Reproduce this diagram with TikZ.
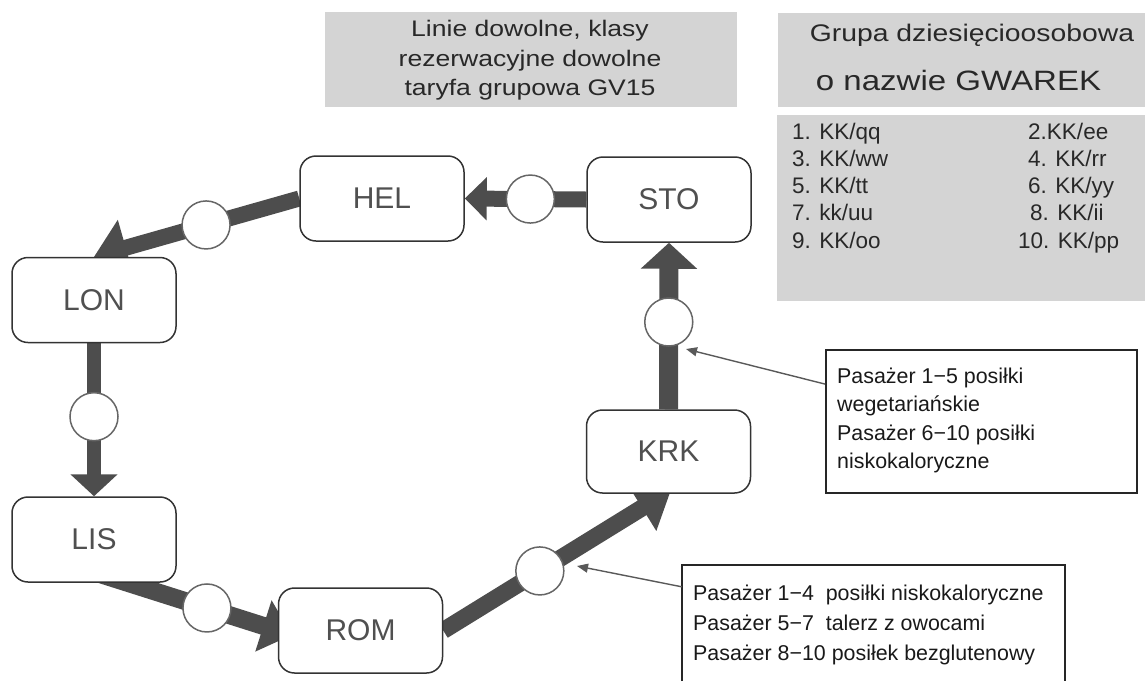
\documentclass[tikz,border=0pt]{standalone}
\usepackage{fontspec}
\setmainfont{Liberation Sans}
\newfontfamily\widefont[FakeStretch=1.18]{Liberation Sans}
\usetikzlibrary{arrows.meta}
\pgfdeclarelayer{bg}
\pgfsetlayers{bg,main}
\definecolor{boxgray}{RGB}{212,212,212}
\definecolor{conncol}{RGB}{77,77,77}
\definecolor{labcol}{RGB}{80,80,80}
\definecolor{txtcol}{RGB}{40,40,40}
\tikzset{
  city/.style={draw=black!80, line width=1.5pt, fill=white, rounded corners=16pt,
    minimum width=164pt, minimum height=85pt, inner sep=0pt,
    font=\fontsize{30}{30}\selectfont, text=labcol},
  stop/.style={circle, draw=black!60, line width=1.5pt, fill=white,
    minimum size=48pt, inner sep=0pt},
  conn/.style={draw=conncol, line width=#1},
  graybox/.style={fill=boxgray, draw=none, inner sep=0pt},
  titletext/.style={font=\widefont\fontsize{22.5}{22.5}\selectfont, text=txtcol, anchor=base, inner sep=0pt},
  bigtitle/.style={font=\widefont\fontsize{24}{24}\selectfont, text=txtcol, anchor=base, inner sep=0pt},
  biggertitle/.style={font=\widefont\fontsize{28}{28}\selectfont, text=txtcol, anchor=base, inner sep=0pt},
  listtext/.style={font=\fontsize{22.5}{22.5}\selectfont, text=txtcol, anchor=base west, inner sep=0pt},
  notetext/.style={font=\fontsize{21.4}{21.4}\selectfont, text=black!90, anchor=base west, inner sep=0pt},
  notebox/.style={draw=black!85, line width=1.8pt, inner sep=0pt},
  pointer/.style={draw=black!65, line width=1.4pt, -{Triangle[length=11pt,width=9pt]}}
}
\begin{document}
\begin{tikzpicture}[x=1pt,y=-1pt]
\useasboundingbox (0,0) rectangle (1147,681);

% gray info boxes
\node[graybox, minimum width=412pt, minimum height=95pt] (g1) at (531,59.5) {};
\node[graybox, minimum width=367pt, minimum height=94pt] (g2) at (961.5,60) {};
\node[graybox, minimum width=368pt, minimum height=186pt] (g3) at (961,208) {};

\node[titletext] (t1) at (530,36.7) {Linie dowolne, klasy};
\node[titletext] (t2) at (530,66.7) {rezerwacyjne dowolne};
\node[titletext] (t3) at (530,95.5) {taryfa grupowa GV15};

\node[bigtitle] (t4) at (972,41.7) {Grupa dziesięcioosobowa};
\node[biggertitle] (t5) at (958.5,90) {o nazwie GWAREK};

\node[listtext] (l1) at (792,139) {1. KK/qq};
\node[listtext] (l3) at (792,166) {3. KK/ww};
\node[listtext] (l5) at (792,193) {5. KK/tt};
\node[listtext] (l7) at (792,220) {7. kk/uu};
\node[listtext] (l9) at (792,248) {9. KK/oo};
\node[listtext] (l2) at (1028,139) {2.KK/ee};
\node[listtext] (l4) at (1028,166) {4. KK/rr};
\node[listtext] (l6) at (1028,193) {6. KK/yy};
\node[listtext] (l8) at (1030,220) {8. KK/ii};
\node[listtext] (l10) at (1018,248) {10. KK/pp};

% city nodes
\node[city] (HEL) at (382,198.5) {HEL};
\node[city] (STO) at (669,199.5) {STO};
\node[city] (LON) at (94,300) {LON};
\node[city] (LIS) at (94,539.5) {LIS};
\node[city] (ROM) at (360.5,630.5) {ROM};
\node[city, minimum height=83pt] (KRK) at (668.5,451.5) {KRK};

\coordinate (ls) at (100,574);
\coordinate (rt) at (292,635);
\coordinate (kt) at (671,490);

% connectors
\begin{pgfonlayer}{bg}
\draw[conn=16pt, -{Triangle[length=22pt,width=42pt]}] (STO.west) -- node[stop,pos=0.46] (c1) {} (HEL.east);
\draw[conn=16pt, -{Triangle[length=33pt,width=56pt]}] (HEL.west) -- node[stop,pos=0.454] (c2) {} (LON.north);
\draw[conn=14pt, -{Triangle[length=22pt,width=46pt]}] (LON.south) -- node[stop,pos=0.48] (c3) {} (LIS.north);
\draw[conn=18pt, -{Triangle[length=30pt,width=52pt]}] (ls) -- node[stop,pos=0.557] (c4) {} (rt);
\draw[conn=17pt, -{Triangle[length=34pt,width=52pt]}] (ROM.east) -- node[stop,pos=0.424] (c5) {} (kt);
\draw[conn=19pt, -{Triangle[length=26pt,width=55pt]}] (KRK.north) -- node[stop,pos=0.524] (c6) {} (STO.south);
\end{pgfonlayer}

% callout 1
\node[notebox, minimum width=311pt, minimum height=143pt] (cb1) at (981.5,421.5) {};
\node[notetext] (n1) at (837,383) {Pasażer 1−5 posiłki};
\node[notetext] (n2) at (837,411.5) {wegetariańskie};
\node[notetext] (n3) at (837,440) {Pasażer 6−10 posiłki};
\node[notetext] (n4) at (837,468.5) {niskokaloryczne};
\coordinate (p1) at (686,349);
\draw[pointer] ([yshift=-35pt]cb1.north west) -- (p1);

% callout 2 (open at the bottom)
\node[inner sep=0pt, minimum width=383pt, minimum height=116pt] (cb2) at (873.5,623) {};
\draw[draw=black!85, line width=1.8pt] (cb2.south west) -- (cb2.north west) -- (cb2.north east) -- (cb2.south east);
\node[notetext] (m1) at (693,600) {Pasażer 1−4\ \ posiłki niskokaloryczne};
\node[notetext] (m2) at (693,630) {Pasażer 5−7\ \ talerz z owocami};
\node[notetext] (m3) at (693,660) {Pasażer 8−10 posiłek bezglutenowy};
\coordinate (p2) at (577,566);
\draw[pointer] ([yshift=-22pt]cb2.north west) -- (p2);
\end{tikzpicture}
\end{document}
